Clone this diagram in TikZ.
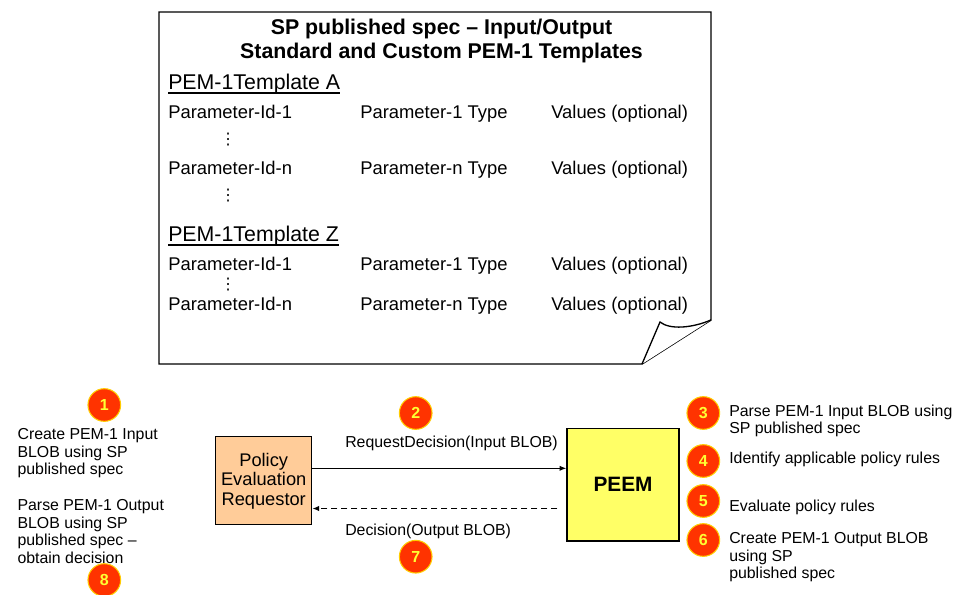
\documentclass[tikz,border=0pt]{standalone}
\usepackage{fontspec}
\setmainfont{Liberation Sans}
\newfontfamily\dvsfont{DejaVu Sans}
\usetikzlibrary{arrows.meta,calc}
\definecolor{perfill}{HTML}{FFCC99}
\definecolor{peemfill}{HTML}{FFFF66}
\definecolor{stepred}{HTML}{FF3300}
\definecolor{stepring}{HTML}{FFCC00}
\definecolor{stepnum}{HTML}{FFFF33}
\begin{document}
\begin{tikzpicture}[x=0.75pt,y=-0.75pt,
  param/.style={anchor=base west,inner sep=0pt,font=\fontsize{13.8}{16}\selectfont},
  tmpl/.style={anchor=base west,inner sep=0pt,font=\fontsize{16}{19}\selectfont},
  vdot/.style={inner sep=0pt,font=\dvsfont\fontsize{12}{12}\selectfont},
  note/.style={anchor=north west,inner sep=0pt,align=left,font=\fontsize{11.9}{13.1}\selectfont},
  lbl/.style={anchor=base west,inner sep=0pt,font=\fontsize{11.9}{14}\selectfont},
  badge/.style={circle,fill=stepred,draw=stepring,line width=0.8pt,minimum size=24.5pt,inner sep=0pt,text=stepnum,font=\bfseries\fontsize{12}{14}\selectfont},
  arr/.style={line width=0.9pt,-{Latex[length=5pt,width=4pt]}},
  ulline/.style={line width=1.1pt}]
\useasboundingbox (0,0) rectangle (953,594);
% document with folded corner
\draw[line width=1.1pt,fill=white] (159,12) -- (711,12) -- (711,320) -- (642,364) -- (159,364) -- cycle;
\draw[line width=1pt,fill=white] (642,364) -- (660,322) .. controls (670,330) and (692,328) .. (711,320);
% title
\node[anchor=north,align=center,inner sep=0pt,font=\bfseries\fontsize{16}{18}\selectfont] (title) at (441.5,18.4)
  {SP published spec – Input/Output\\Standard and Custom PEM-1 Templates};
% template A
\node[tmpl] (tA) at (168,89.6) {PEM-1Template A};
\draw[ulline] ([yshift=-2.4pt]tA.base west) -- ([yshift=-2.4pt]tA.base east);
\node[param] (a1) at (168,118.5) {Parameter-Id-1};
\node[param] (a1t) at (360,118.5) {Parameter-1 Type};
\node[param] (a1v) at (551,118.5) {Values (optional)};
\node[vdot] (ad1) at (228,140) {⋮};
\node[param] (an) at (168,174.5) {Parameter-Id-n};
\node[param] (ant) at (360,174.5) {Parameter-n Type};
\node[param] (anv) at (551,174.5) {Values (optional)};
\node[vdot] (ad2) at (228,196) {⋮};
% template Z
\node[tmpl] (tZ) at (168,241.6) {PEM-1Template Z};
\draw[ulline] ([yshift=-2.4pt]tZ.base west) -- ([yshift=-2.4pt]tZ.base east);
\node[param] (z1) at (168,270.5) {Parameter-Id-1};
\node[param] (z1t) at (360,270.5) {Parameter-1 Type};
\node[param] (z1v) at (551,270.5) {Values (optional)};
\node[vdot] (zd) at (228,284.5) {⋮};
\node[param] (zn) at (168,310.5) {Parameter-Id-n};
\node[param] (znt) at (360,310.5) {Parameter-n Type};
\node[param] (znv) at (551,310.5) {Values (optional)};
% boxes
\node[draw,line width=1pt,fill=perfill,minimum width=72pt,minimum height=66pt,inner sep=0pt,align=center,
  font=\fontsize{13.7}{14.6}\selectfont] (per) at (263.7,480.8) {Policy\\Evaluation\\Requestor};
\node[draw,line width=1pt,fill=peemfill,minimum width=84pt,minimum height=84.5pt,inner sep=0pt,
  font=\bfseries\fontsize{15.6}{18}\selectfont] (peem) at (623,484.5) {PEEM};
% arrows
\draw[arr] (per.east) ++(0,-12.5) coordinate (s1) -- (s1 -| peem.west);
\coordinate (d1) at ($(peem.west)+(-9,24)$);
\draw[arr,dash pattern=on 4.5pt off 3pt] (d1) -- (d1 -| per.east);
\node[lbl] (req) at (345,447.4) {RequestDecision(Input BLOB)};
\node[lbl] (dec) at (345,535.7) {Decision(Output BLOB)};
% badges
\node[badge] (b1) at (104.3,405) {1};
\node[badge] (b2) at (415.7,413) {2};
\node[badge] (b3) at (703.3,413) {3};
\node[badge] (b4) at (703.3,461) {4};
\node[badge] (b5) at (703.3,501) {5};
\node[badge] (b6) at (703.3,540) {6};
\node[badge] (b7) at (415.7,556.7) {7};
\node[badge] (b8) at (104.3,580) {8};
% notes
\node[note] (n1) at (17.3,428.3) {Create PEM-1 Input\\BLOB using SP\\published spec};
\node[note] (n8) at (17.3,499.3) {Parse PEM-1 Output\\BLOB using SP\\published spec –\\obtain decision};
\node[note] (n3) at (729,404.3) {Parse PEM-1 Input BLOB using\\SP published spec};
\node[note] (n4) at (729,452) {Identify applicable policy rules};
\node[note] (n5) at (729,500) {Evaluate policy rules};
\node[note] (n6) at (729,532.6) {Create PEM-1 Output BLOB\\using SP\\published spec};
\end{tikzpicture}
\end{document}
